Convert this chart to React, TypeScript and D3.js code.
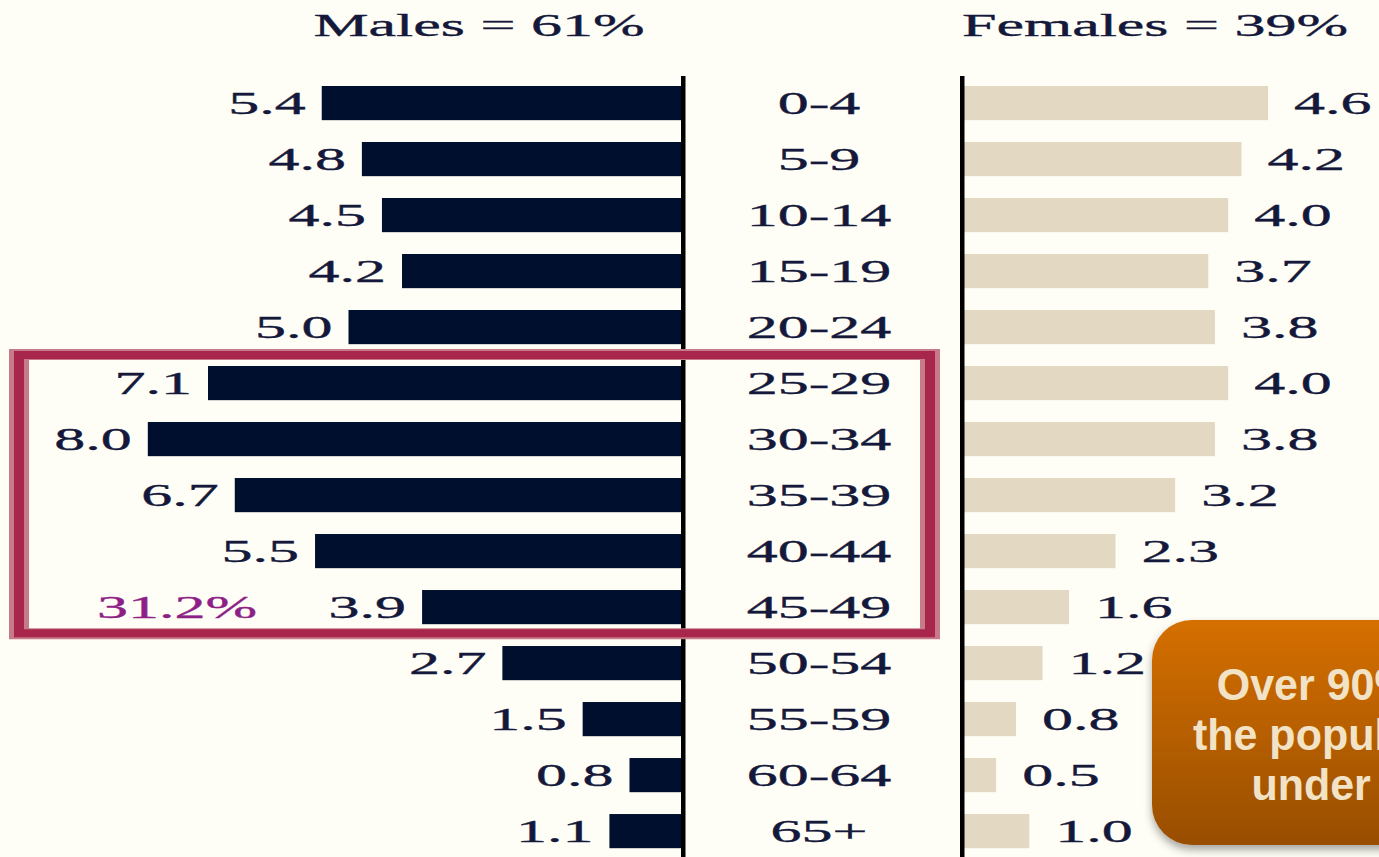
import React from "react";
import * as d3 from "d3";

const ageGroups = ["0-4","5-9","10-14","15-19","20-24","25-29","30-34","35-39","40-44","45-49","50-54","55-59","60-64","65+"];
const maleValues = [5.4,4.8,4.5,4.2,5.0,7.1,8.0,6.7,5.5,3.9,2.7,1.5,0.8,1.1];
const femaleValues = [4.6,4.2,4.0,3.7,3.8,4.0,3.8,3.2,2.3,1.6,1.2,0.8,0.5,1.0];
const maleTitle = "Males = 61%";
const femaleTitle = "Females = 39%";
const highlightGroups = ["25-29","45-49"];
const highlightLabel = "31.2%";
const calloutLines = ["Over 90% of","the population","under 50"];

const W = 1379, H = 857;
const SERIF = "'Liberation Serif', 'Times New Roman', serif";
const TEXT = "#14183a";

function SText({ x, y, anchor, fill = TEXT, size = 31, sx = 2, children }: any) {
  return (
    <g transform={`translate(${x},${y}) scale(${sx},1)`}>
      <text textAnchor={anchor} fontFamily={SERIF} fontSize={size} fill={fill}
        stroke={fill} strokeWidth={0.35}>{children}</text>
    </g>
  );
}

export default function App() {
  const y = d3.scaleBand<string>().domain(ageGroups).range([74.8, 859.4]).paddingInner(0.39).paddingOuter(0.2);
  const maleX = d3.scaleLinear().domain([0, 8]).range([683, 683 - 8 * 66.9]);
  const femaleX = d3.scaleLinear().domain([0, 8]).range([963, 963 + 8 * 66.3]);
  const fmt = d3.format(".1f");
  const bw = y.bandwidth();

  const boxTop = (y(highlightGroups[0]) as number) - 17;
  const boxBot = (y(highlightGroups[1]) as number) + bw + 15;
  const bx0 = 9, bx1 = 940;
  const framePath = (x0: number, y0: number, x1: number, y1: number, tx: number, ty: number) =>
    `M${x0},${y0}H${x1}V${y1}H${x0}Z M${x0 + tx},${y0 + ty}V${y1 - ty}H${x1 - tx}V${y0 + ty}Z`;

  return (
    <svg width={W} height={H} style={{ position: "absolute", left: 0, top: 0 }}>
      <defs>
        <linearGradient id="og" x1="0" y1="0" x2="0" y2="1">
          <stop offset="0" stopColor="#d56f00" />
          <stop offset="1" stopColor="#984e06" />
        </linearGradient>
        <filter id="sh" x="-20%" y="-20%" width="140%" height="150%">
          <feDropShadow dx="0" dy="5" stdDeviation="4" floodColor="#000" floodOpacity="0.35" />
        </filter>
      </defs>
      <rect x={0} y={0} width={W} height={H} fill="#fffef6" />

      <SText x={479} y={36} anchor="middle">{maleTitle}</SText>
      <SText x={1155} y={36} anchor="middle">{femaleTitle}</SText>

      {ageGroups.map((g, i) => {
        const yy = y(g) as number;
        const cy = yy + bw / 2;
        return (
          <g key={g}>
            <rect x={maleX(maleValues[i])} y={yy} width={683 - maleX(maleValues[i])} height={bw} fill="#000f2e" />
            <rect x={963} y={yy} width={femaleX(femaleValues[i]) - 963} height={bw} fill="#e3d8c2" />
            <SText x={maleX(maleValues[i]) - 16} y={cy + 10.5} anchor="end">{fmt(maleValues[i])}</SText>
            <SText x={femaleX(femaleValues[i]) + 26} y={cy + 10.5} anchor="start">{fmt(femaleValues[i])}</SText>
            <SText x={819} y={cy + 11} anchor="middle">{g}</SText>
          </g>
        );
      })}

      <rect x={681} y={76} width={4.5} height={H - 76} fill="#000" />
      <rect x={960} y={76} width={4.5} height={H - 76} fill="#000" />

      <path d={framePath(bx0, boxTop, bx1, boxBot, 20, 11)} fill="#c77b88" fillRule="evenodd" />
      <path d={framePath(bx0 + 5, boxTop + 2, bx1 - 5, boxBot - 2, 10, 8)} fill="#a8264b" fillRule="evenodd" />

      <SText x={97} y={(y(highlightGroups[1]) as number) + bw / 2 + 10.5} anchor="start" fill="#8e1f86">{highlightLabel}</SText>

      <g filter="url(#sh)">
        <rect x={1152} y={620} width={378} height={225} rx={40} ry={40} fill="url(#og)" />
      </g>
      {calloutLines.map((l, i) => (
        <g key={i} transform={`translate(1341,${700 + i * 50}) scale(1,1.04)`}>
          <text textAnchor="middle" fontFamily="'Liberation Sans', Arial, sans-serif"
            fontWeight="bold" fontSize={43} fill="#f2e3c6">{l}</text>
        </g>
      ))}
    </svg>
  );
}
